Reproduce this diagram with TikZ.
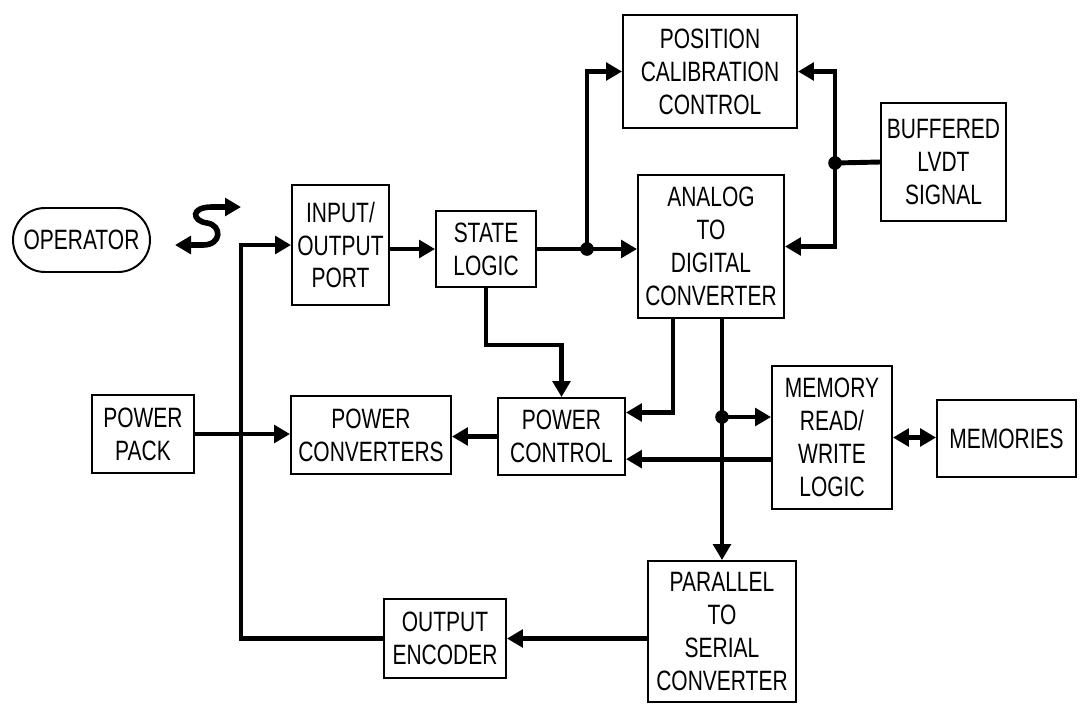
\documentclass[tikz,border=0pt]{standalone}
\usepackage{fontspec}
\setmainfont{Liberation Sans}[FakeStretch=0.75]
\usetikzlibrary{arrows.meta}

\begin{document}
\begin{tikzpicture}[
    x=0.25mm, y=-0.25mm,
    every node/.style={font=\fontsize{19.9}{23.4}\selectfont},
    block/.style={rectangle, draw, line width=1.4pt, align=center, inner sep=0pt},
    arrow/.style={-{Triangle[length=0.4cm,width=0.44cm]}, line width=3.5pt},
    dblarrow/.style={{Triangle[length=0.4cm,width=0.44cm]}-{Triangle[length=0.4cm,width=0.44cm]}, line width=3.5pt},
    wire/.style={line width=3.5pt},
    dot/.style={circle, fill, inner sep=0pt, minimum size=0.34cm}
]
\useasboundingbox (0,0) rectangle (1080,705);

% Operator
\node[block, rounded corners=0.8cm, minimum width=3.425cm, minimum height=1.6cm] (op) at (81.5,240) {OPERATOR};
\coordinate (sl) at (175,245);
\coordinate (sr) at (241,207);
\draw[dblarrow, line width=4pt] (sl) -- (203,245) .. controls (222,245) and (222,225) .. (207,223) .. controls (192,221) and (190,207) .. (212,207) -- (sr);

% Blocks
\node[block, minimum width=2.425cm, minimum height=3cm] (io) at (340.5,245) {INPUT/\\OUTPUT\\PORT};
\node[block, minimum width=2.5cm, minimum height=1.9cm] (state) at (486,249) {STATE\\LOGIC};
\node[block, minimum width=4.35cm, minimum height=2.825cm] (pcal) at (710,71.5) {POSITION\\CALIBRATION\\CONTROL};
\node[block, minimum width=3.65cm, minimum height=3.575cm] (adc) at (711,246.5) {ANALOG\\TO\\DIGITAL\\CONVERTER};
\node[block, minimum width=3.125cm, minimum height=2.95cm] (lvdt) at (943.5,162) {BUFFERED\\LVDT\\SIGNAL};
\node[block, minimum width=2.55cm, minimum height=1.95cm] (ppack) at (143,434) {POWER\\PACK};
\node[block, minimum width=4cm, minimum height=1.95cm] (pconv) at (371,435) {POWER\\CONVERTERS};
\node[block, minimum width=3.175cm, minimum height=1.925cm] (pctrl) at (561.5,436.5) {POWER\\CONTROL};
\node[block, minimum width=3cm, minimum height=3.575cm] (memrw) at (832,437.5) {MEMORY\\READ/\\WRITE\\LOGIC};
\node[block, minimum width=3.475cm, minimum height=1.925cm] (mem) at (1006.5,438.5) {MEMORIES};
\node[block, minimum width=3.7cm, minimum height=3.525cm] (p2s) at (722,631.5) {PARALLEL\\TO\\SERIAL\\CONVERTER};
\node[block, minimum width=3.05cm, minimum height=1.975cm] (enc) at (445,638.5) {OUTPUT\\ENCODER};

% Junctions
\node[dot] (j1) at (587,249) {};
\node[dot] (j2) at (835,163) {};
\node[dot] (j3) at (722,417) {};

% Signal paths
\draw[arrow] (io.east |- state.west) -- (state.west);
\draw[arrow] (state.east) -- (state.east -| adc.west);
\draw[arrow] (j1.center) |- (pcal.west);
\draw[wire] (lvdt.west) -- (j2.center);
\draw[arrow] (j2.center) |- (pcal.east);
\draw[arrow] (j2.center) |- (adc.east);
\draw[arrow] (state.south) -- ++(0,57) -| (pctrl.north);
\draw[arrow] ([xshift=-0.95cm]adc.south) |- ([yshift=0.6cm]pctrl.east);
\draw[arrow] (adc.south -| p2s.north) -- (p2s.north);
\draw[arrow] (j3.center) -- (j3 -| memrw.west);
\draw[arrow] ([yshift=-0.54cm]memrw.west) -- ([yshift=-0.54cm]memrw.west -| pctrl.east);
\draw[dblarrow] (memrw.east) -- (memrw.east -| mem.west);

% Power
\draw[arrow] (pctrl.west) -- (pctrl.west -| pconv.east);
\draw[arrow] (ppack.east) -- (ppack.east -| pconv.west);

% Output loop
\draw[arrow] (p2s.west |- enc.east) -- (enc.east);
\draw[arrow] (enc.west) -| ([xshift=-1.25cm]io.west) -- (io.west);

\end{tikzpicture}
\end{document}
